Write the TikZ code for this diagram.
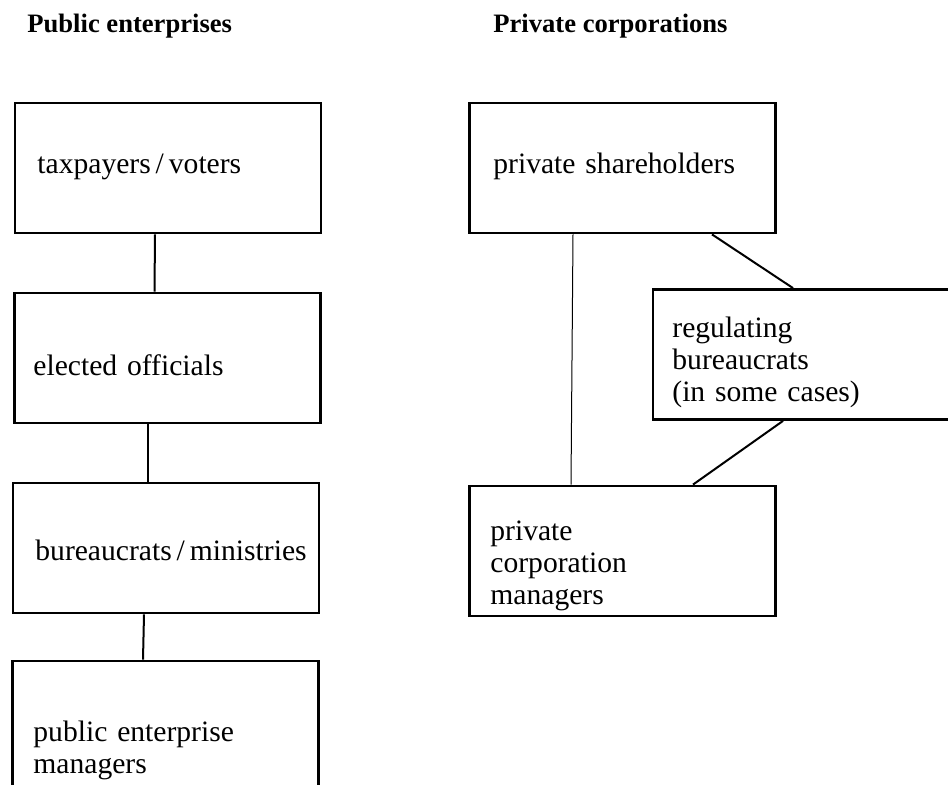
\documentclass[tikz,border=0pt]{standalone}
\usepackage{fontspec}
\setmainfont{Liberation Serif}

\begin{document}
\begin{tikzpicture}[x=0.5pt,y=-0.5pt]

\tikzset{box/.style = {shape=rectangle,draw,line width=1.4pt,minimum width=153pt,minimum height=65pt,inner sep=0pt}}
\tikzset{txt/.style = {anchor=base west,inner sep=0pt,text width=150pt,align=left,font=\fontsize{14.8}{16}\selectfont}}
\tikzset{head/.style = {anchor=base west,inner sep=0pt,font=\fontsize{13.3}{15}\selectfont\bfseries}}
\tikzset{edge/.style = {line width=1pt}}
\tikzset{thin edge/.style = {line width=0.5pt}}

\path[use as bounding box] (0,0) rectangle (948,785);
\clip (0,0) rectangle (948,785);
%headings
\node[head] (pubhead) at (27,33) {Public enterprises};
\node[head] (privhead) at (493,33) {Private corporations};
%boxes
\node[box] (tax) at (168,168) {};
\node[box] (elect) at (167.5,358) {};
\node[box] (bur) at (166,548) {};
\node[box] (pem) at (165.5,726) {};
\node[box] (share) at (622.5,168) {};
\node[box] (reg) at (806,354.5) {};
\node[box] (pcm) at (622.5,551) {};
%texts
\node[txt] (taxtxt) at (37,174) {taxpayers\,/\,voters};
\node[txt] (electtxt) at (33,376) {elected officials};
\node[txt] (burtxt) at (35,561) {bureaucrats\,/\,ministries};
\node[txt] (pemtxt) at (33,741) {public enterprise\\managers};
\node[txt] (sharetxt) at (493,174) {private shareholders};
\node[txt] (regtxt) at (672,338) {regulating\\bureaucrats\\(in some cases)};
\node[txt] (pcmtxt) at (490,541) {private\\corporation\\managers};
%edges
\draw[edge] ([xshift=-6.5pt]tax.south) -- ([xshift=-6.5pt]elect.north);
\draw[edge] ([xshift=-9.75pt]elect.south) -- ([xshift=-9pt]bur.north);
\draw[edge] ([xshift=-11pt]bur.south) -- ([xshift=-11.25pt]pem.north);
\draw[thin edge] ([xshift=-24.75pt]share.south) -- ([xshift=-25.75pt]pcm.north);
\draw[edge] ([xshift=44.75pt]share.south) -- ([xshift=-6.5pt]reg.north);
\draw[edge] ([xshift=-11.5pt]reg.south) -- ([xshift=35.25pt]pcm.north);

\end{tikzpicture}
\end{document}
